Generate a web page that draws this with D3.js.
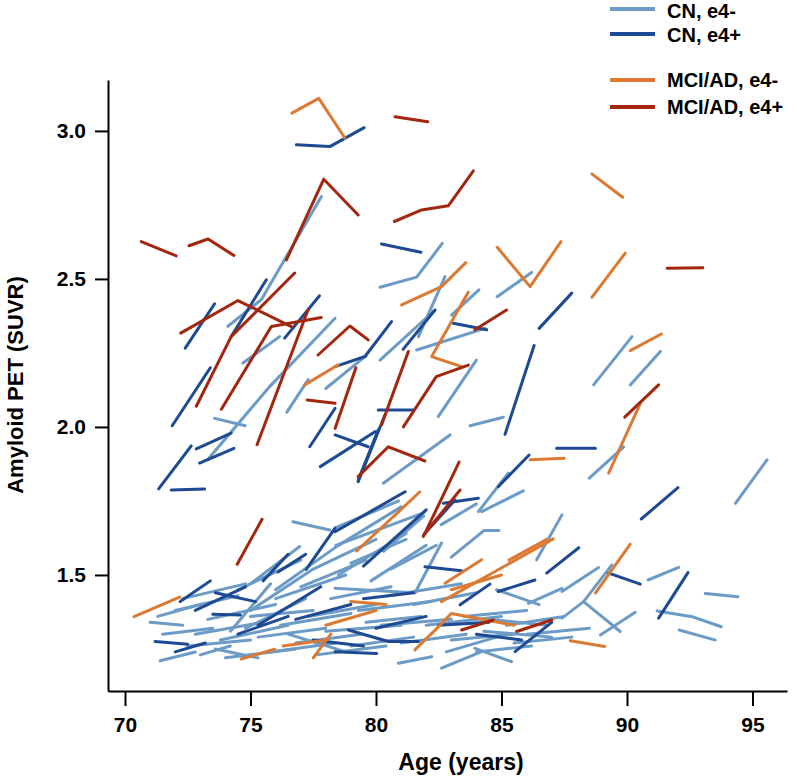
<!DOCTYPE html>
<html><head><meta charset="utf-8">
<script src="https://cdn.jsdelivr.net/npm/d3@7"></script>
<style>
body{margin:0;background:#fff;}
text{font-family:"Liberation Sans",Arial,Helvetica,sans-serif;}
</style></head>
<body>
<svg id="chart" width="797" height="778"></svg>
<script>
// ---------- DATA (age in years, amyloid PET SUVR) ----------
const groupLabels = ["CN, e4-", "CN, e4+", "MCI/AD, e4-", "MCI/AD, e4+"];
const xTicks = [70, 75, 80, 85, 90, 95];
const yTicks = [1.5, 2.0, 2.5, 3.0];

// CN, APOE e4 negative
const cnNeg = [
 [[74.1,2.34],[75.43,2.43],[77.82,2.778]],
 [[74.7,2.216],[76.16,2.305]],
 [[75.83,2.142],[78.37,2.367]],
 [[76.45,2.05],[77.3,2.16]],
 [[80.16,2.472],[81.62,2.506],[82.64,2.62]],
 [[84.83,2.44],[86.2,2.522]],
 [[83.01,2.378],[84.1,2.463]],
 [[81.62,2.26],[84.34,2.333]],
 [[80.16,2.226],[82.35,2.395]],
 [[81.69,2.305],[82.75,2.508]],
 [[82.48,2.035],[84.0,2.226]],
 [[88.67,2.142],[90.2,2.305]],
 [[90.13,2.142],[91.33,2.255]],
 [[73.57,2.029],[74.79,2.004]],
 [[73.3,1.89],[75.8,2.14]],
 [[78.0,2.13],[79.6,2.24]],
 [[83.75,2.004],[85.07,2.033]],
 [[80.29,1.81],[82.95,1.973]],
 [[88.5,1.827],[89.87,1.933]],
 [[94.32,1.742],[95.58,1.889]],
 [[76.69,1.68],[78.16,1.652]],
 [[75.03,1.472],[76.96,1.596]],
 [[84.21,1.714],[85.87,1.784]],
 [[84.08,1.714],[85.27,1.844]],
 [[86.4,1.551],[87.41,1.703]],
 [[86.07,1.404],[87.41,1.455]],
 [[81.55,1.439],[82.61,1.608]],
 [[83.0,1.56],[84.3,1.65],[84.9,1.65]],
 [[82.6,1.67],[84.0,1.74]],
 [[78.4,1.60],[81.9,1.71]],
 [[80.3,1.58],[81.9,1.70]],
 [[78.4,1.66],[80.9,1.75]],
 [[79.0,1.54],[81.2,1.62]],
 [[80.6,1.52],[82.4,1.60]],
 [[78.37,1.455],[81.5,1.44]],
 [[87.41,1.444],[88.87,1.525]],
 [[87.41,1.354],[88.27,1.41],[89.4,1.534]],
 [[88.27,1.41],[89.73,1.309]],
 [[88.94,1.297],[90.33,1.374]],
 [[90.84,1.483],[92.06,1.526]],
 [[91.2,1.378],[92.59,1.359],[93.76,1.325]],
 [[93.12,1.437],[94.42,1.426]],
 [[92.08,1.314],[93.52,1.28]],
 [[80.89,1.202],[82.22,1.224]],
 [[82.61,1.185],[84.21,1.241]],
 [[83.94,1.252],[85.4,1.207]],
 [[71.5,1.30],[73.5,1.32]],
 [[71.0,1.34],[72.3,1.33]],
 [[71.4,1.21],[72.8,1.24]],
 [[72.0,1.38],[74.5,1.43]],
 [[72.5,1.26],[75.0,1.28]],
 [[73.0,1.23],[74.2,1.26]],
 [[73.3,1.35],[76.0,1.40]],
 [[73.8,1.28],[76.5,1.33]],
 [[74.0,1.22],[76.8,1.25]],
 [[74.5,1.45],[77.0,1.55]],
 [[74.2,1.31],[75.8,1.47]],
 [[75.0,1.36],[77.5,1.38]],
 [[75.3,1.29],[78.0,1.32]],
 [[75.8,1.24],[78.4,1.27]],
 [[76.0,1.42],[78.8,1.50]],
 [[76.2,1.33],[79.0,1.37]],
 [[76.8,1.27],[79.4,1.30]],
 [[77.0,1.46],[79.6,1.55]],
 [[77.3,1.36],[80.0,1.40]],
 [[77.6,1.23],[80.4,1.26]],
 [[78.0,1.31],[81.0,1.33]],
 [[78.2,1.42],[80.6,1.46]],
 [[78.5,1.50],[81.2,1.64]],
 [[79.0,1.26],[81.5,1.29]],
 [[79.3,1.38],[82.2,1.41]],
 [[79.8,1.48],[82.0,1.60]],
 [[80.2,1.33],[83.0,1.35]],
 [[81.0,1.27],[83.6,1.30]],
 [[81.5,1.40],[84.0,1.44]],
 [[82.0,1.33],[85.0,1.36]],
 [[83.0,1.28],[85.5,1.30]],
 [[83.5,1.36],[86.0,1.38]],
 [[84.0,1.24],[86.2,1.26]],
 [[84.3,1.31],[87.0,1.29]],
 [[84.8,1.45],[86.5,1.40]],
 [[85.2,1.33],[87.5,1.36]],
 [[85.5,1.27],[87.8,1.29]],
 [[72.3,1.42],[74.8,1.47]],
 [[75.0,1.38],[77.5,1.52],[80.0,1.62]],
 [[76.0,1.45],[78.5,1.60],[81.0,1.73]],
 [[71.3,1.36],[73.0,1.40]],
 [[72.8,1.30],[75.5,1.34]],
 [[73.6,1.25],[75.3,1.22]],
 [[76.5,1.30],[78.8,1.24]],
 [[79.6,1.34],[81.8,1.36]],
 [[82.8,1.24],[84.8,1.29]],
 [[84.5,1.35],[86.8,1.33]],
 [[86.0,1.30],[88.5,1.32]],
 [[80.5,1.43],[83.4,1.47]],
 [[74.8,1.32],[77.2,1.42]]
];

// CN, APOE e4 positive
const cnPos = [
 [[76.83,2.953],[78.16,2.947],[79.53,3.011]],
 [[72.4,2.266],[73.57,2.416]],
 [[74.23,2.305],[75.63,2.497]],
 [[76.36,2.30],[77.75,2.443]],
 [[80.22,2.618],[81.79,2.59]],
 [[83.08,2.35],[84.41,2.328]],
 [[86.5,2.333],[87.8,2.452]],
 [[85.14,1.975],[86.3,2.275]],
 [[81.08,2.262],[82.35,2.395]],
 [[78.37,2.204],[79.56,2.238],[80.62,2.356]],
 [[71.88,2.004],[73.4,2.2]],
 [[72.84,1.926],[74.23,1.979]],
 [[72.97,1.878],[74.34,1.928]],
 [[71.34,1.791],[72.64,1.936]],
 [[71.84,1.787],[73.17,1.79]],
 [[77.36,1.933],[78.37,2.063]],
 [[77.78,1.866],[79.96,1.984]],
 [[80.09,2.057],[81.49,2.057]],
 [[79.29,1.815],[80.36,2.041]],
 [[79.29,1.82],[80.09,1.99]],
 [[78.37,1.973],[79.69,1.933]],
 [[78.37,1.646],[81.16,1.781]],
 [[77.22,1.519],[78.37,1.658]],
 [[82.68,1.742],[84.08,1.759]],
 [[81.95,1.641],[83.15,1.753]],
 [[84.87,1.798],[86.1,1.905]],
 [[87.2,1.928],[88.74,1.928]],
 [[90.57,1.689],[92.03,1.795]],
 [[86.8,1.506],[88.08,1.592]],
 [[89.27,1.506],[90.53,1.469]],
 [[91.26,1.354],[92.43,1.508]],
 [[81.95,1.528],[83.41,1.514]],
 [[83.35,1.399],[84.54,1.469]],
 [[84.87,1.444],[86.33,1.483]],
 [[85.54,1.241],[87.0,1.34]],
 [[78.9,1.314],[80.49,1.275],[81.69,1.275]],
 [[78.37,1.241],[80.03,1.235]],
 [[71.2,1.275],[72.5,1.266]],
 [[72.2,1.41],[73.4,1.48]],
 [[73.6,1.44],[75.2,1.41]],
 [[73.5,1.367],[74.6,1.365]],
 [[75.5,1.48],[76.5,1.57]],
 [[76.1,1.51],[77.2,1.57]],
 [[74.5,1.30],[76.5,1.36]],
 [[76.8,1.35],[79.0,1.40]],
 [[77.5,1.28],[79.5,1.26]],
 [[79.5,1.42],[81.5,1.44]],
 [[80.0,1.32],[82.0,1.36]],
 [[82.5,1.33],[84.5,1.34]],
 [[72.8,1.38],[74.8,1.46]],
 [[75.3,1.33],[77.8,1.46]],
 [[79.5,1.53],[82.0,1.72]],
 [[72.0,1.24],[73.2,1.27]],
 [[84.0,1.30],[85.8,1.28]]
];

// MCI/AD, APOE e4 negative
const mciNeg = [
 [[76.65,3.06],[77.72,3.11],[78.76,2.976]],
 [[81.02,2.412],[82.61,2.474],[83.58,2.555]],
 [[84.83,2.607],[86.14,2.474],[87.37,2.626]],
 [[82.22,2.238],[83.68,2.456]],
 [[82.3,2.235],[83.41,2.204]],
 [[88.6,2.855],[89.83,2.776]],
 [[88.6,2.438],[89.93,2.587]],
 [[90.13,2.258],[91.37,2.314]],
 [[77.16,2.142],[78.5,2.21]],
 [[79.23,1.581],[81.75,1.781]],
 [[86.14,1.889],[87.5,1.894]],
 [[89.27,1.844],[90.53,2.08]],
 [[88.74,1.439],[90.13,1.604]],
 [[82.75,1.472],[84.21,1.551]],
 [[82.61,1.41],[87.06,1.622]],
 [[87.74,1.278],[89.11,1.258]],
 [[70.36,1.359],[72.18,1.425]],
 [[74.63,1.216],[75.96,1.249]],
 [[81.55,1.247],[82.22,1.303]],
 [[78.0,1.33],[80.0,1.38]],
 [[79.0,1.41],[80.4,1.40]],
 [[82.2,1.30],[83.0,1.37],[85.5,1.33]],
 [[83.0,1.45],[85.0,1.50]],
 [[76.3,1.26],[78.0,1.28]],
 [[77.5,1.22],[78.2,1.30]],
 [[85.3,1.55],[86.8,1.62]]
];

// MCI/AD, APOE e4 positive
const mciPos = [
 [[76.43,2.564],[77.92,2.837],[79.29,2.716]],
 [[70.65,2.626],[72.04,2.578]],
 [[72.55,2.612],[73.31,2.635],[74.34,2.579]],
 [[72.22,2.317],[74.5,2.427],[76.63,2.339]],
 [[73.84,2.06],[75.83,2.339],[77.82,2.37]],
 [[75.26,1.94],[77.29,2.395]],
 [[72.84,2.07],[74.23,2.305],[76.76,2.52]],
 [[77.69,2.243],[78.96,2.341],[79.69,2.294]],
 [[80.76,3.048],[82.06,3.031]],
 [[80.73,2.694],[81.82,2.733],[82.88,2.747],[83.88,2.865]],
 [[83.94,2.328],[85.2,2.395]],
 [[80.22,2.007],[81.29,2.255]],
 [[81.09,2.0],[82.4,2.17],[83.68,2.209]],
 [[91.6,2.536],[93.02,2.538]],
 [[89.91,2.033],[91.26,2.142]],
 [[77.26,2.091],[78.37,2.08]],
 [[78.37,1.995],[79.2,2.2]],
 [[79.29,1.832],[80.49,1.933],[81.95,1.885]],
 [[81.89,1.63],[83.31,1.881]],
 [[81.9,1.635],[83.35,1.787]],
 [[74.47,1.536],[75.46,1.688]],
 [[85.6,1.309],[87.0,1.348]],
 [[83.41,1.314],[84.67,1.348]]
];

const groupColors = ["#6b9bc6", "#1d4a93", "#dc7a33", "#a3260f"];

// ---------- DRAW ----------
const svg = d3.select("#chart");
const plot = {left:108, right:787, top:80, bottom:691};

const x = d3.scaleLinear().domain([69.323, 96.375]).range([plot.left, plot.right]);
const y = d3.scaleLinear().domain([1.108, 3.172]).range([plot.bottom, plot.top]);

const line = d3.line().x(d => x(d[0])).y(d => y(d[1]));

const groups = [cnNeg, cnPos, mciNeg, mciPos];
groups.forEach((g, i) => {
  svg.append("g").selectAll("path").data(g).join("path")
    .attr("d", line)
    .attr("fill", "none")
    .attr("stroke", groupColors[i])
    .attr("stroke-width", 3)
    .attr("stroke-linecap", "round")
    .attr("stroke-linejoin", "round");
});

// axes
const xAxis = svg.append("g").attr("transform", `translate(0,${plot.bottom})`)
  .call(d3.axisBottom(x).tickValues(xTicks).tickSize(15).tickSizeOuter(0).tickPadding(11).tickFormat(d3.format("d")));
const yAxis = svg.append("g").attr("transform", `translate(${plot.left},0)`)
  .call(d3.axisLeft(y).tickValues(yTicks).tickSize(13).tickSizeOuter(0).tickPadding(9).tickFormat(d3.format(".1f")));
[xAxis, yAxis].forEach(a => {
  a.select(".domain").attr("stroke", "#000").attr("stroke-width", 2);
  a.selectAll(".tick line").attr("stroke", "#000").attr("stroke-width", 2);
  a.selectAll(".tick text").attr("fill", "#000")
    .style("font-size", "21px").style("font-weight", "bold")
    .style("font-family", '"Liberation Sans", Arial, sans-serif');
});

// axis titles
svg.append("text").attr("x", 461).attr("y", 770).attr("text-anchor", "middle")
  .style("font-size", "23px").style("font-weight", "bold").text("Age (years)");
svg.append("text").attr("transform", "translate(23,385) rotate(-90)").attr("text-anchor", "middle")
  .style("font-size", "22px").style("font-weight", "bold").text("Amyloid PET (SUVR)");

// legend
const legendLineY = [9, 34, 80, 107];
const legendTextY = [18, 42, 87, 114];
const lg = svg.append("g");
groupLabels.forEach((lab, i) => {
  lg.append("line").attr("x1", 610).attr("x2", 655).attr("y1", legendLineY[i]).attr("y2", legendLineY[i])
    .attr("stroke", groupColors[i]).attr("stroke-width", 4);
  lg.append("text").attr("x", 667).attr("y", legendTextY[i])
    .style("font-size", "20px").style("font-weight", "bold").text(lab);
});
</script>
</body></html>
